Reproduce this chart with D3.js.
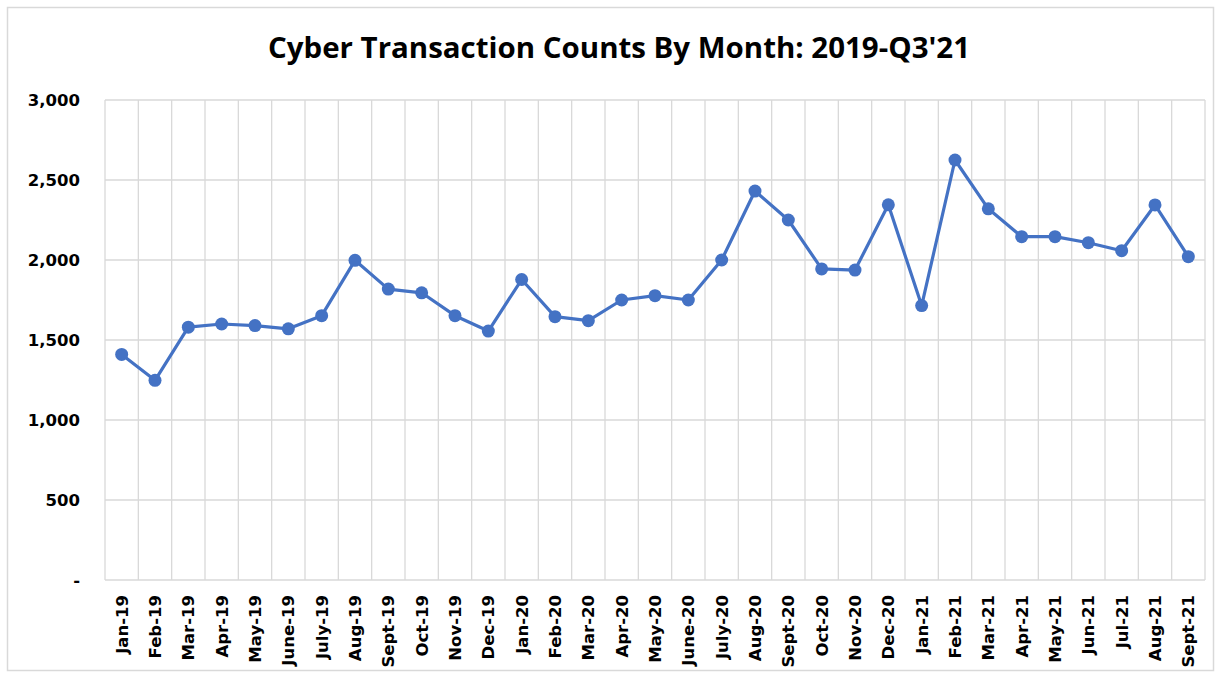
<!DOCTYPE html>
<html>
<head>
<meta charset="utf-8">
<script src="https://cdn.jsdelivr.net/npm/d3@7"></script>
<style>
  body { margin: 0; background: #fff; }
  svg { display: block; font-family: "DejaVu Sans", sans-serif; }
</style>
</head>
<body>
<div id="chart"></div>
<script>
const months = ['Jan-19', 'Feb-19', 'Mar-19', 'Apr-19', 'May-19', 'June-19', 'July-19', 'Aug-19', 'Sept-19', 'Oct-19', 'Nov-19', 'Dec-19',
    'Jan-20', 'Feb-20', 'Mar-20', 'Apr-20', 'May-20', 'June-20', 'July-20', 'Aug-20', 'Sept-20', 'Oct-20', 'Nov-20', 'Dec-20',
    'Jan-21', 'Feb-21', 'Mar-21', 'Apr-21', 'May-21', 'Jun-21', 'Jul-21', 'Aug-21', 'Sept-21'];
const counts = [1410, 1248, 1580, 1600, 1590, 1570, 1652, 1998, 1818, 1795, 1652, 1556,
    1878, 1646, 1621, 1750, 1777, 1750, 2000, 2431, 2250, 1944, 1937, 2345,
    1715, 2625, 2320, 2146, 2146, 2108, 2058, 2344, 2021];
const yTicks = [0, 500, 1000, 1500, 2000, 2500, 3000];

const width = 1220, height = 677;
const margin = { top: 100, right: 15, bottom: 97, left: 105 };

const svg = d3.select('#chart').append('svg')
    .attr('width', width)
    .attr('height', height);

// chart frame
svg.append('rect')
    .attr('x', 7.5).attr('y', 7.5)
    .attr('width', 1206).attr('height', 663)
    .attr('fill', '#fff')
    .attr('stroke', '#d9d9d9')
    .attr('stroke-width', 1.5);

svg.append('text')
    .attr('x', 619)
    .attr('y', 58)
    .attr('text-anchor', 'middle')
    .style('font-family', '"Open Sans", sans-serif')
    .style('font-size', '28px')
    .style('font-weight', 'bold')
    .attr('textLength', 702)
    .attr('lengthAdjust', 'spacingAndGlyphs')
    .attr('fill', '#000')
    .text("Cyber Transaction Counts By Month: 2019-Q3'21");

const x = d3.scaleBand()
    .domain(months)
    .range([margin.left, width - margin.right]);

const y = d3.scaleLinear()
    .domain([0, 3000])
    .range([height - margin.bottom, margin.top]);

const grid = svg.append('g');

// horizontal gridlines
grid.selectAll('line.h')
    .data(yTicks)
    .join('line')
    .attr('class', 'h')
    .attr('x1', margin.left).attr('x2', width - margin.right)
    .attr('y1', d => y(d)).attr('y2', d => y(d))
    .attr('stroke', '#d9d9d9')
    .attr('stroke-width', 1.3);

// vertical gridlines at category boundaries
grid.selectAll('line.v')
    .data(months.concat(['end']))
    .join('line')
    .attr('class', 'v')
    .attr('x1', (d, i) => i < months.length ? x(d) : x(months[months.length - 1]) + x.bandwidth())
    .attr('x2', (d, i) => i < months.length ? x(d) : x(months[months.length - 1]) + x.bandwidth())
    .attr('y1', y(3000)).attr('y2', y(0))
    .attr('stroke', '#d9d9d9')
    .attr('stroke-width', 1.3);

// y axis labels
const yAxis = svg.append('g')
    .attr('transform', `translate(${margin.left - 25},0)`)
    .call(d3.axisLeft(y).tickValues(yTicks).tickSize(0).tickFormat(d => d === 0 ? '-' : d3.format(',')(d)));
yAxis.select('.domain').remove();
yAxis.selectAll('text')
    .attr('x', 0)
    .style('font-size', '16.5px')
    .style('font-weight', 'bold')
    .style('font-family', '"DejaVu Sans", sans-serif')
    .attr('fill', '#000');

// x axis labels
const xAxis = svg.append('g')
    .attr('transform', `translate(0,${height - margin.bottom})`)
    .call(d3.axisBottom(x).tickSize(0));
xAxis.select('.domain').remove();
xAxis.selectAll('text')
    .attr('transform', 'rotate(-90)')
    .attr('text-anchor', 'end')
    .attr('x', -15)
    .attr('y', 0)
    .attr('dy', '0.36em')
    .style('font-size', '16.5px')
    .style('font-weight', 'bold')
    .style('font-family', '"DejaVu Sans", sans-serif')
    .attr('fill', '#000');

const cx = d => x(d) + x.bandwidth() / 2;

const line = d3.line()
    .x((d, i) => cx(months[i]))
    .y(d => y(d));

svg.append('path')
    .datum(counts)
    .attr('fill', 'none')
    .attr('stroke', '#4472c4')
    .attr('stroke-width', 3.2)
    .attr('stroke-linejoin', 'round')
    .attr('d', line);

svg.selectAll('circle.pt')
    .data(counts)
    .join('circle')
    .attr('class', 'pt')
    .attr('cx', (d, i) => cx(months[i]))
    .attr('cy', d => y(d))
    .attr('r', 6.5)
    .attr('fill', '#4472c4');
</script>
</body>
</html>
